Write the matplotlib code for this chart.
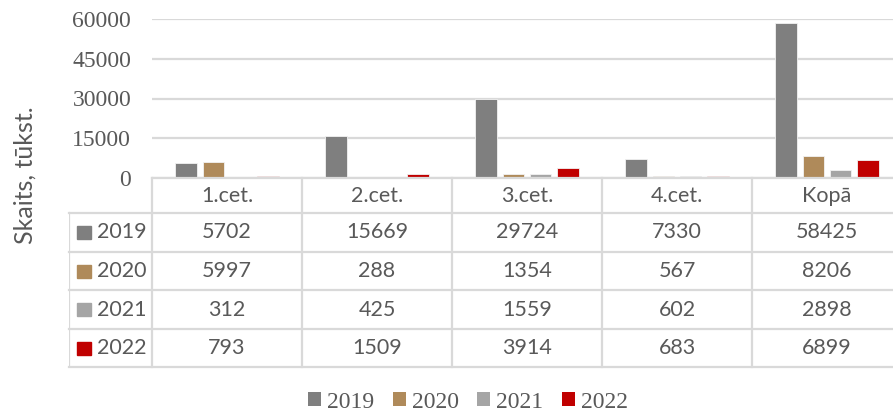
import matplotlib
matplotlib.use('Agg')
import matplotlib.pyplot as plt
from matplotlib.patches import Patch
import numpy as np

# data
categories = ['1.cet.', '2.cet.', '3.cet.', '4.cet.', 'Kopā']
years = ['2019', '2020', '2021', '2022']
v2019 = [5702, 15669, 29724, 7330, 58425]
v2020 = [5997, 288, 1354, 567, 8206]
v2021 = [312, 425, 1559, 602, 2898]
v2022 = [793, 1509, 3914, 683, 6899]
yticks = [0, 15000, 30000, 45000, 60000]

series = [v2019, v2020, v2021, v2022]
colors = ['#7F7F7F', '#AF8A5A', '#A5A5A5', '#C00000']
grid_c = '#D9D9D9'
text_c = '#595959'

W, H = 893, 412
fig = plt.figure(figsize=(W / 100, H / 100), dpi=100)


def px_rect(x0, y0, x1, y1):
    # pixel box (top-left origin) -> figure fraction rect
    return [x0 / W, (H - y1) / H, (x1 - x0) / W, (y1 - y0) / H]


# bar chart area
ax = fig.add_axes(px_rect(152, 19, 902, 178))
x = np.arange(len(categories))
bw, step = 0.143, 0.182
for i, (vals, c) in enumerate(zip(series, colors)):
    ax.bar(x + (i - 1.5) * step, vals, width=bw, color=c,
           edgecolor='#F2F2F2', linewidth=0.6, zorder=3)
ax.set_xlim(-0.5, len(categories) - 0.5)
ax.set_ylim(0, 60000)
ax.set_yticks(yticks)
ax.set_yticklabels([str(t) for t in yticks], fontfamily='Liberation Serif',
                   fontsize=17, color=text_c)
ax.tick_params(axis='y', length=0, pad=15)
ax.set_xticks([])
ax.grid(True, axis='y', color=grid_c, linewidth=1.6, zorder=0)
for s in ax.spines.values():
    s.set_visible(False)

# data table below the bars, x in category units
tab = fig.add_axes(px_rect(69, 178, 902, 367))
left_col = -83 / 150
tab.set_xlim(left_col - 0.5, len(categories) - 0.5)
row_edges = [0, 35, 74, 112, 151, 189]
tab.set_ylim(189, 0)
tab.axis('off')

lw = 1.6
x_lines = [left_col - 0.5] + [k - 0.5 for k in range(len(categories) + 1)]
# horizontal lines
tab.plot([-0.5, len(categories) - 0.5], [0, 0], color=grid_c, lw=lw, clip_on=False)
for yy in row_edges[1:]:
    tab.plot([left_col - 0.5, len(categories) - 0.5], [yy, yy], color=grid_c, lw=lw,
             clip_on=False)
# vertical lines
tab.plot([x_lines[0], x_lines[0]], [row_edges[1], row_edges[-1]], color=grid_c, lw=lw)
for xx in x_lines[1:]:
    tab.plot([xx, xx], [0, row_edges[-1]], color=grid_c, lw=lw, clip_on=False)

tfont = dict(fontfamily='Lato', fontsize=15.5, color=text_c, va='center', ha='center')
for k, cat in enumerate(categories):
    tab.text(k, (row_edges[0] + row_edges[1]) / 2 + 1, cat, **tfont)
for r, (yr, vals, c) in enumerate(zip(years, series, colors)):
    yc = (row_edges[r + 1] + row_edges[r + 2]) / 2
    for k, v in enumerate(vals):
        tab.text(k, yc, str(v), **tfont)
    # legend key and year label
    key_x = left_col - 0.5 + 8 / 150
    tab.add_patch(plt.Rectangle((key_x, yc - 6.5), 14 / 150, 13, color=c, clip_on=False))
    tab.text(key_x + 20 / 150, yc, yr, fontfamily='Lato', fontsize=15.5, color=text_c,
             va='center', ha='left')

# y axis title
fig.text(25 / W, 1 - 175 / H, 'Skaits, tūkst.', rotation=90, fontfamily='Lato',
         fontsize=18, color=text_c, ha='center', va='center')

# bottom legend
handles = [Patch(facecolor=c, edgecolor='none') for c in colors]
fig.legend(handles, years, loc='center', bbox_to_anchor=(468 / W, 10 / H),
           ncol=4, frameon=False, handlelength=0.55, handleheight=0.55,
           handletextpad=0.25, columnspacing=0.8,
           prop={'family': 'Liberation Serif', 'size': 17}, labelcolor=text_c)

fig.savefig('out.png', dpi=100)
